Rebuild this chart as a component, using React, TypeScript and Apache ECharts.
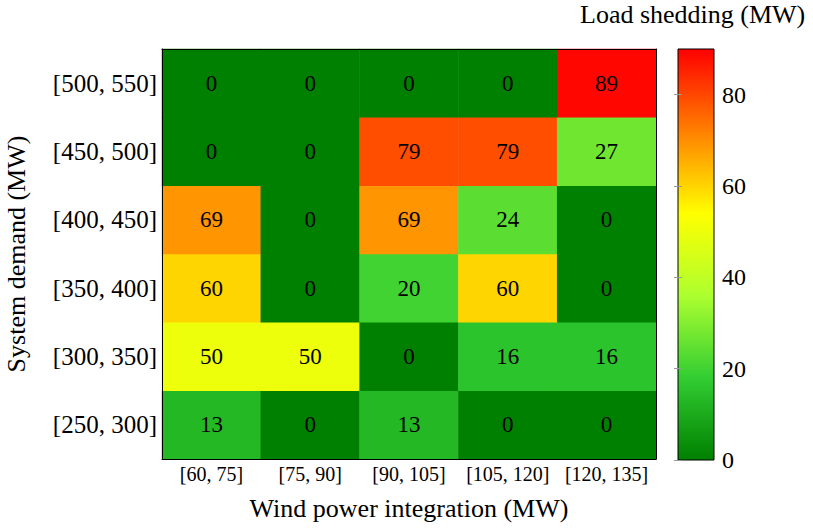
import React, { useEffect, useRef } from "react";
import * as echarts from "echarts";

// Wind power integration bands (x) and system demand bands (y, bottom to top)
const windBands = ["[60, 75]", "[75, 90]", "[90, 105]", "[105, 120]", "[120, 135]"];
const demandBands = ["[250, 300]", "[300, 350]", "[350, 400]", "[400, 450]", "[450, 500]", "[500, 550]"];

// Load shedding (MW) per demand band, across wind bands
const shed250 = [13, 0, 13, 0, 0];
const shed300 = [50, 50, 0, 16, 16];
const shed350 = [60, 0, 20, 60, 0];
const shed400 = [69, 0, 69, 24, 0];
const shed450 = [0, 0, 79, 79, 27];
const shed500 = [0, 0, 0, 0, 89];
const shedRows = [shed250, shed300, shed350, shed400, shed450, shed500];

const colorbarTicks = [0, 20, 40, 60, 80];
const colorMin = 0;
const colorMax = 90;
const cmap = ["#008000", "#32CD32", "#ADFF2F", "#FFFF00", "#FF8000", "#FF0000"];

const FONT = "'Liberation Serif', 'Times New Roman', serif";

export default function App() {
  const ref = useRef<HTMLDivElement>(null);
  useEffect(() => {
    if (!ref.current) return;
    const chart = echarts.init(ref.current, undefined, { renderer: "svg" });
    const data: number[][] = [];
    shedRows.forEach((row, yi) => row.forEach((v, xi) => data.push([xi, yi, v])));
    const n = cmap.length - 1;
    const stops = cmap
      .map((c, i) => ({ offset: 1 - i / n, color: c }))
      .reverse();
    chart.setOption({
      animation: false,
      backgroundColor: "#ffffff",
      textStyle: { fontFamily: FONT, color: "#000" },
      grid: [
        { left: 162, top: 49, width: 494, height: 410, containLabel: false, outerBoundsMode: "none" },
        {
          left: 678,
          top: 49,
          width: 36,
          height: 411,
          show: true,
          outerBoundsMode: "none",
          backgroundColor: { type: "linear", x: 0, y: 0, x2: 0, y2: 1, colorStops: stops },
          borderColor: "#000",
          borderWidth: 1,
        },
      ],
      xAxis: [
        {
          type: "category",
          gridIndex: 0,
          data: windBands,
          z: 10,
          axisLine: { show: true, lineStyle: { color: "#000", width: 1 } },
          axisTick: { show: false },
          axisLabel: { fontFamily: FONT, fontSize: 20, color: "#000", margin: 5, interval: 0, hideOverlap: false },
          splitLine: { show: false },
          name: "Wind power integration (MW)",
          nameLocation: "middle",
          nameGap: 36,
          nameTextStyle: { fontFamily: FONT, fontSize: 26, color: "#000" },
        },
        {
          type: "category",
          gridIndex: 0,
          data: windBands,
          position: "top",
          z: 10,
          axisLine: { show: true, onZero: false, lineStyle: { color: "#000", width: 1 } },
          axisTick: { show: false },
          axisLabel: { show: false },
        },
        { type: "value", gridIndex: 1, show: false, min: 0, max: 1 },
      ],
      yAxis: [
        {
          type: "category",
          gridIndex: 0,
          data: demandBands,
          z: 10,
          axisLine: { show: true, lineStyle: { color: "#000", width: 1 } },
          axisTick: { show: false },
          axisLabel: { fontFamily: FONT, fontSize: 25, color: "#000", margin: 5, interval: 0 },
          splitLine: { show: false },
          name: "System demand (MW)",
          nameLocation: "middle",
          nameGap: 133,
          nameTextStyle: { fontFamily: FONT, fontSize: 26, color: "#000" },
        },
        {
          type: "category",
          gridIndex: 0,
          data: demandBands,
          position: "right",
          z: 10,
          axisLine: { show: true, onZero: false, lineStyle: { color: "#000", width: 1 } },
          axisTick: { show: false },
          axisLabel: { show: false },
        },
        {
          type: "value",
          gridIndex: 1,
          position: "right",
          min: colorMin,
          max: colorMax,
          interval: 20,
          z: 10,
          axisLine: { show: false },
          axisTick: {
            show: true,
            inside: true,
            length: 4,
            customValues: colorbarTicks,
            lineStyle: { color: "#999", width: 1 },
          },
          axisLabel: {
            fontFamily: FONT,
            fontSize: 24,
            color: "#000",
            margin: 8,
            customValues: colorbarTicks,
          },
          splitLine: { show: false },
        },
        {
          type: "value",
          gridIndex: 1,
          position: "left",
          min: colorMin,
          max: colorMax,
          interval: 20,
          z: 10,
          axisLine: { show: false },
          axisTick: {
            show: true,
            inside: true,
            length: 4,
            customValues: colorbarTicks,
            lineStyle: { color: "#999", width: 1 },
          },
          axisLabel: { show: false },
          splitLine: { show: false },
        },
      ],
      visualMap: {
        type: "continuous",
        show: false,
        min: colorMin,
        max: colorMax,
        seriesIndex: 0,
        dimension: 2,
        inRange: { color: cmap },
      },
      graphic: [
        {
          type: "text",
          left: 580,
          top: 1,
          style: {
            text: "Load shedding (MW)",
            font: `26px ${FONT}`,
            fill: "#000",
          },
        },
      ],
      series: [
        {
          type: "heatmap",
          xAxisIndex: 0,
          yAxisIndex: 0,
          data,
          label: {
            show: true,
            color: "#000",
            fontFamily: FONT,
            fontSize: 23,
          },
          itemStyle: { borderWidth: 0 },
          emphasis: { disabled: true },
        },
      ],
    });
    return () => chart.dispose();
  }, []);
  return (
    <div
      ref={ref}
      style={{ position: "fixed", left: 0, top: 0, width: 813, height: 532 }}
    />
  );
}
